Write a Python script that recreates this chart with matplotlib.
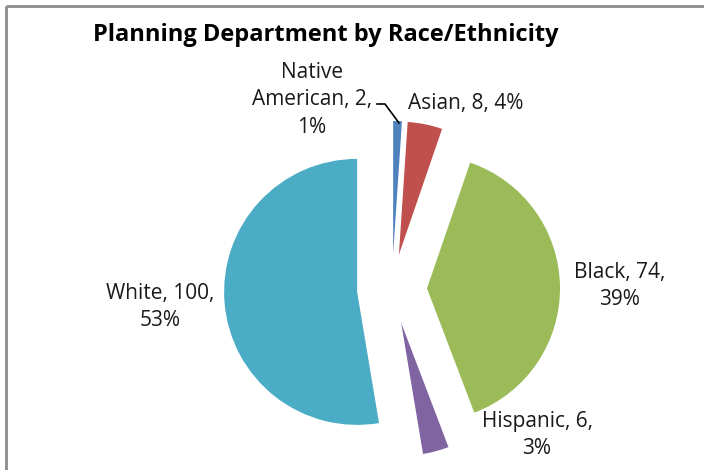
import matplotlib
matplotlib.use('Agg')
import matplotlib.pyplot as plt
from matplotlib.patches import Rectangle

categories = ['Native American', 'Asian', 'Black', 'Hispanic', 'White']
counts = [2, 8, 74, 6, 100]
colors = ['#4F81BD', '#C0504D', '#9BBB59', '#8064A2', '#4BACC6']

# label layout (pixel positions, how each label wraps)
label_pos = [(312, 100), (466, 103), (620, 286), (537, 435), (160, 307)]
label_wrap = ['Native\nAmerican, {v},\n{p}%', 'Asian, {v}, {p}%',
              'Black, {v},\n{p}%', 'Hispanic, {v},\n{p}%', 'White, {v},\n{p}%']

plt.rcParams['font.family'] = ['Open Sans', 'DejaVu Sans']

W, H = 704, 470
fig = plt.figure(figsize=(W / 100, H / 100), dpi=100)
ax = fig.add_axes([0, 0, 1, 1])

# pixel-like coordinates, y pointing down -> counterclock=True is clockwise on screen
ax.pie(counts, colors=colors, center=(392, 289), radius=133,
       explode=[35] * len(counts), startangle=270, counterclock=True,
       wedgeprops=dict(linewidth=0), frame=True)
ax.set_xlim(0, W)
ax.set_ylim(H, 0)
ax.set_aspect('auto')
ax.axis('off')

total = sum(counts)
for cat, v, (x, y), fmt in zip(categories, counts, label_pos, label_wrap):
    txt = fmt.format(v=v, p=round(100 * v / total))
    ax.text(x, y, txt, ha='center', va='center', multialignment='center',
            fontsize=15, color='#1a1a1a', linespacing=1.4)

# leader line for the small Native American slice
ax.plot([377, 385, 399], [104, 104, 123], color='black', lw=1.2)

ax.text(326, 41, 'Planning Department by Race/Ethnicity', ha='center',
        va='baseline', fontsize=17, fontweight='bold', color='black')

# chart area frame (runs off the right and bottom edges)
ax.add_patch(Rectangle((6, 6), W + 20, H + 20, fill=False,
                       edgecolor='#8c8c8c', lw=2, clip_on=False))

fig.savefig('out.png', dpi=100)
